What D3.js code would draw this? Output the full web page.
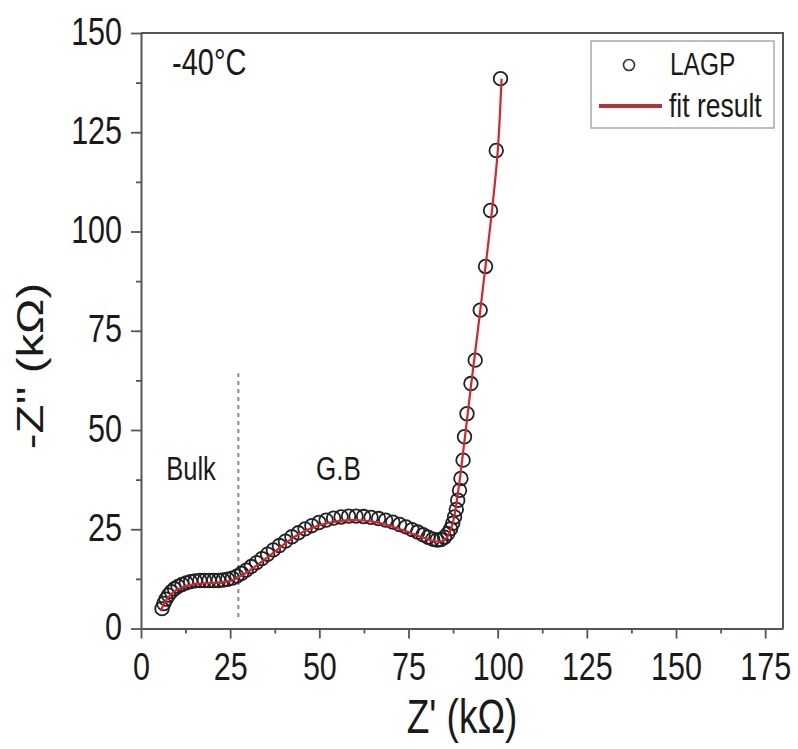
<!DOCTYPE html>
<html>
<head>
<meta charset="utf-8">
<script src="https://cdn.jsdelivr.net/npm/d3@7"></script>
<style>
  html, body { margin: 0; padding: 0; background: #fff; }
  text { font-family: "Liberation Sans", Arial, sans-serif; fill: #1a1a1a; }
</style>
</head>
<body>
<svg id="chart" width="798" height="749"></svg>
<script>
// Impedance spectrum of LAGP at -40 °C (Nyquist plot), values in kΩ
const zReal = [
  5.9, 6.4, 7.0, 7.7, 8.5, 9.4, 10.4, 11.5, 12.7, 13.9, 15.2, 16.5, 17.8, 19.1, 20.4,
  21.7, 23.0, 24.3, 25.6, 26.9, 28.2, 29.5, 30.9, 32.4, 33.9, 35.5, 37.1, 38.8, 40.5,
  42.3, 44.1, 46.0, 47.9, 49.9, 51.9, 54.0, 56.1, 58.2, 60.3, 62.4, 64.5, 66.6, 68.6,
  70.6, 72.5, 74.3, 76.0, 77.6, 79.1, 80.5, 81.8, 83.0, 84.1, 85.1, 86.0, 86.8, 87.4,
  87.9, 88.4, 88.8, 89.3, 89.7, 90.3, 90.7, 91.4, 92.5, 93.7, 95.1, 96.6, 98.0, 99.6, 100.8
];
const zImag = [
  5.0, 6.3, 7.4, 8.4, 9.3, 10.0, 10.6, 11.1, 11.5, 11.8, 12.0, 12.1, 12.1, 12.1, 12.1,
  12.1, 12.2, 12.4, 12.7, 13.2, 13.9, 14.7, 15.6, 16.6, 17.6, 18.7, 19.8, 20.9, 22.0,
  23.1, 24.1, 25.1, 25.9, 26.7, 27.3, 27.8, 28.1, 28.3, 28.3, 28.2, 28.0, 27.7, 27.3,
  26.8, 26.2, 25.6, 24.9, 24.3, 23.6, 23.0, 22.5, 22.3, 22.4, 23.0, 23.9, 25.1, 26.5,
  28.1, 30.0, 32.3, 34.8, 37.8, 42.4, 48.3, 54.1, 61.7, 67.6, 80.2, 91.2, 105.3, 120.4, 138.5
];

// Equivalent-circuit fit
const fitReal = [
  5.6, 6.2, 7.0, 8.0, 9.2, 10.6, 12.2, 14.0, 16.0, 18.0, 20.0, 22.0, 24.0, 26.0, 28.0,
  30.0, 32.5, 35.0, 38.0, 41.0, 44.0, 47.0, 50.0, 53.0, 56.0, 59.0, 62.0, 65.0, 68.0,
  71.0, 74.0, 77.0, 80.0, 82.0, 83.5, 84.8, 85.8, 86.7, 87.4, 88.0, 88.6, 89.3, 90.0,
  91.0, 92.5, 94.5, 96.5, 98.5, 100.0, 101.1
];
const fitImag = [
  4.4, 5.8, 7.1, 8.2, 9.2, 10.0, 10.6, 11.0, 11.3, 11.4, 11.5, 11.6, 11.8, 12.3, 13.2,
  14.3, 15.9, 17.6, 19.7, 21.8, 23.6, 25.0, 26.0, 26.7, 27.1, 27.3, 27.2, 26.9, 26.3,
  25.5, 24.6, 23.6, 22.6, 22.1, 21.9, 22.2, 23.0, 24.5, 26.5, 29.0, 32.5, 37.0, 42.0,
  49.5, 61.0, 75.5, 90.5, 106.0, 120.0, 138.5
];

const xTickValues = [0, 25, 50, 75, 100, 125, 150, 175];
const xMinorValues = [12.5, 37.5, 62.5, 87.5, 112.5, 137.5, 162.5];
const yTickValues = [0, 25, 50, 75, 100, 125, 150];
const yMinorValues = [12.5, 37.5, 62.5, 87.5, 112.5, 137.5];
const boundaryZ = 27.3;           // bulk / grain-boundary separation
const boundarySpan = [2.9, 64.3];

const SY = 1.28;                  // tall, condensed lettering
const AXIS = "#555";

const svg = d3.select("#chart");
const plotL = 141, plotT = 33, plotR = 783, plotB = 628.5;

const x = d3.scaleLinear().domain([0, 180]).range([plotL, plotR]);
const y = d3.scaleLinear().domain([0, 150]).range([plotB, plotT]);

// stretched text helper
function label(g, px, py, str, size, opts = {}) {
  const rot = opts.rotate || 0;
  return g.append("g")
    .attr("transform", `translate(${px},${py}) rotate(${rot}) scale(${rot ? SY : 1},${rot ? 1 : SY})`)
    .append("text")
    .attr("text-anchor", opts.anchor || "start")
    .attr("y", opts.dy || 0)
    .style("font-size", size + "px")
    .style("font-weight", opts.weight || "normal")
    .text(str);
}

// minor ticks
svg.append("g")
  .attr("transform", `translate(0,${plotB})`)
  .call(d3.axisBottom(x).tickValues(xMinorValues).tickSize(5).tickSizeOuter(0).tickFormat(""))
  .call(g => g.select(".domain").remove())
  .call(g => g.selectAll("line").attr("stroke", AXIS).attr("stroke-width", 1.8));
svg.append("g")
  .attr("transform", `translate(${plotL},0)`)
  .call(d3.axisLeft(y).tickValues(yMinorValues).tickSize(5).tickSizeOuter(0).tickFormat(""))
  .call(g => g.select(".domain").remove())
  .call(g => g.selectAll("line").attr("stroke", AXIS).attr("stroke-width", 1.8));

// major axes
const xAxis = svg.append("g")
  .attr("transform", `translate(0,${plotB})`)
  .call(d3.axisBottom(x).tickValues(xTickValues).tickSize(10).tickSizeOuter(0));
xAxis.select(".domain").attr("stroke", AXIS).attr("stroke-width", 2);
xAxis.selectAll("line").attr("stroke", AXIS).attr("stroke-width", 1.8);
xAxis.selectAll("text")
  .attr("y", 40.4).attr("dy", 0)
  .attr("transform", `scale(1,${SY})`)
  .attr("fill", "#1a1a1a")
  .style("font-family", "'Liberation Sans', Arial, sans-serif")
  .style("font-size", "30.5px");

const yAxis = svg.append("g")
  .attr("transform", `translate(${plotL},0)`)
  .call(d3.axisLeft(y).tickValues(yTickValues).tickSize(10).tickSizeOuter(0));
yAxis.select(".domain").attr("stroke", AXIS).attr("stroke-width", 2);
yAxis.selectAll("line").attr("stroke", AXIS).attr("stroke-width", 1.8);
yAxis.selectAll("text")
  .attr("x", -19).attr("y", 8.6).attr("dy", 0)
  .attr("transform", `scale(1,${SY})`)
  .attr("fill", "#1a1a1a")
  .style("font-family", "'Liberation Sans', Arial, sans-serif")
  .style("font-size", "30.5px");

// frame: top and right edges
svg.append("path")
  .attr("d", `M${plotL},${plotT}H${plotR}V${plotB}`)
  .attr("fill", "none").attr("stroke", AXIS).attr("stroke-width", 2);

// bulk / grain-boundary divider
svg.append("line")
  .attr("x1", x(boundaryZ)).attr("x2", x(boundaryZ))
  .attr("y1", y(boundarySpan[0])).attr("y2", y(boundarySpan[1]))
  .attr("stroke", "#888").attr("stroke-width", 2).attr("stroke-dasharray", "4,4");

// measured points
const pts = zReal.map((v, i) => [v, zImag[i]]);
svg.append("g").selectAll("circle")
  .data(pts).join("circle")
  .attr("cx", d => x(d[0])).attr("cy", d => y(d[1])).attr("r", 6.8)
  .attr("fill", "none").attr("stroke", "#222").attr("stroke-width", 1.8);

// fit curve
const fitPts = fitReal.map((v, i) => [v, fitImag[i]]);
svg.append("path")
  .datum(fitPts)
  .attr("d", d3.line().x(d => x(d[0])).y(d => y(d[1])).curve(d3.curveCatmullRom))
  .attr("fill", "none").attr("stroke", "#d3262e").attr("stroke-width", 2.2);

// annotations
label(svg, 172, 75, "-40°C", 29);
label(svg, 191, 480, "Bulk", 25.5, { anchor: "middle" });
label(svg, 338.5, 480, "G.B", 26, { anchor: "middle" });

// axis titles
label(svg, (plotL + plotR) / 2, 733, "Z' (kΩ)", 37, { anchor: "middle" });
label(svg, 30, 366, "-Z'' (kΩ)", 37, { anchor: "middle", rotate: -90, dy: 13.2 });

// legend
const lg = svg.append("g");
lg.append("rect")
  .attr("x", 591).attr("y", 41).attr("width", 183).attr("height", 87)
  .attr("fill", "#fff").attr("stroke", "#aaa").attr("stroke-width", 1.5);
lg.append("circle")
  .attr("cx", 629).attr("cy", 65).attr("r", 5.5)
  .attr("fill", "none").attr("stroke", "#333").attr("stroke-width", 1.6);
lg.append("line")
  .attr("x1", 599).attr("x2", 662).attr("y1", 106).attr("y2", 106)
  .attr("stroke", "#b0343f").attr("stroke-width", 4);
label(lg, 670, 75, "LAGP", 24.5);
label(lg, 669, 116.5, "fit result", 26.5);
</script>
</body>
</html>
